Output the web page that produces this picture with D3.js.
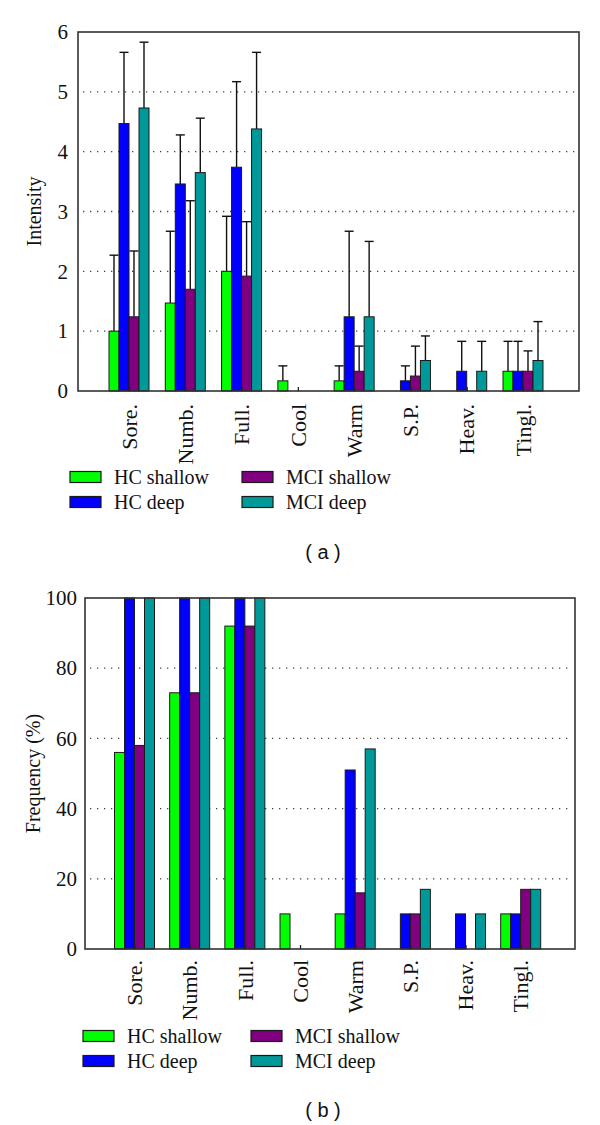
<!DOCTYPE html>
<html>
<head>
<meta charset="utf-8">
<script src="https://cdn.jsdelivr.net/npm/d3@7"></script>
<style>
  html, body { margin: 0; padding: 0; background: #fff; }
  svg { display: block; }
</style>
</head>
<body>
<script>
// ---------- DATA ----------
const categories = ["Sore.", "Numb.", "Full.", "Cool", "Warm", "S.P.", "Heav.", "Tingl."];
const seriesNames = ["HC shallow", "HC deep", "MCI shallow", "MCI deep"];
const seriesColors = ["#00ff00", "#0000ff", "#800080", "#009999"];

// (a) Intensity means
const hcShallowInt  = [1.00, 1.47, 2.00, 0.17, 0.17, 0.00, 0.00, 0.33];
const hcDeepInt     = [4.47, 3.46, 3.74, 0.00, 1.24, 0.17, 0.33, 0.33];
const mciShallowInt = [1.24, 1.70, 1.92, 0.00, 0.33, 0.25, 0.00, 0.33];
const mciDeepInt    = [4.73, 3.65, 4.38, 0.00, 1.24, 0.51, 0.33, 0.51];
// (a) Intensity standard deviations (upper error bars)
const hcShallowSd   = [1.27, 1.20, 0.92, 0.25, 0.25, 0.00, 0.00, 0.50];
const hcDeepSd      = [1.19, 0.82, 1.43, 0.00, 1.43, 0.25, 0.50, 0.50];
const mciShallowSd  = [1.10, 1.48, 0.91, 0.00, 0.42, 0.50, 0.00, 0.34];
const mciDeepSd     = [1.10, 0.91, 1.28, 0.00, 1.26, 0.41, 0.50, 0.65];

// (b) Frequency (%)
const hcShallowFreq  = [56, 73, 92, 10, 10, 0, 0, 10];
const hcDeepFreq     = [100, 100, 100, 0, 51, 10, 10, 10];
const mciShallowFreq = [58, 73, 92, 0, 16, 10, 0, 17];
const mciDeepFreq    = [100, 100, 100, 0, 57, 17, 10, 17];

const intensityTicks = [0, 1, 2, 3, 4, 5, 6];
const frequencyTicks = [0, 20, 40, 60, 80, 100];

const intensityMeans = [hcShallowInt, hcDeepInt, mciShallowInt, mciDeepInt];
const intensitySds = [hcShallowSd, hcDeepSd, mciShallowSd, mciDeepSd];
const frequencyVals = [hcShallowFreq, hcDeepFreq, mciShallowFreq, mciDeepFreq];

// ---------- DRAW ----------
const SERIF = "Liberation Serif, Times New Roman, serif";
const svg = d3.select("body").append("svg").attr("width", 600).attr("height", 1125);

function drawPanel(cfg) {
  const g = svg.append("g");
  const y = d3.scaleLinear().domain(cfg.domain).range([cfg.bottom, cfg.top]);
  const xGroup = d3.scalePoint().domain(categories).range(cfg.centers);
  const xSeries = d3.scaleBand().domain(seriesNames).range([-20, 20]).padding(0);

  // dotted grid
  g.append("g").selectAll("line").data(cfg.grid).join("line")
    .attr("x1", cfg.left + 5).attr("x2", cfg.right - 2)
    .attr("y1", d => y(d)).attr("y2", d => y(d))
    .attr("stroke", "#444").attr("stroke-width", 1.3)
    .attr("stroke-dasharray", "1.3,5.7");

  const rows = [];
  seriesNames.forEach((s, si) => {
    categories.forEach((c, ci) => {
      rows.push({ s, si, c, v: cfg.values[si][ci], sd: cfg.sds ? cfg.sds[si][ci] : 0 });
    });
  });
  const nz = rows.filter(d => d.v > 0);

  // error bars (upper only)
  if (cfg.sds) {
    const eb = g.append("g").attr("stroke", "#111").attr("stroke-width", 1.4);
    nz.filter(d => d.sd > 0).forEach(d => {
      const cx = xGroup(d.c) + xSeries(d.s) + xSeries.bandwidth() / 2;
      eb.append("line").attr("x1", cx).attr("x2", cx)
        .attr("y1", y(d.v)).attr("y2", y(d.v + d.sd));
      eb.append("line").attr("x1", cx - 4.5).attr("x2", cx + 4.5)
        .attr("y1", y(d.v + d.sd)).attr("y2", y(d.v + d.sd));
    });
  }

  // bars
  g.append("g").selectAll("rect").data(nz).join("rect")
    .attr("x", d => xGroup(d.c) + xSeries(d.s))
    .attr("width", xSeries.bandwidth())
    .attr("y", d => y(d.v))
    .attr("height", d => y(0) - y(d.v))
    .attr("fill", d => seriesColors[d.si])
    .attr("stroke", "#1a1a1a").attr("stroke-width", 1);

  // frame
  g.append("rect")
    .attr("x", cfg.left).attr("y", cfg.top)
    .attr("width", cfg.right - cfg.left).attr("height", cfg.bottom - cfg.top)
    .attr("fill", "none").attr("stroke", "#333").attr("stroke-width", 1.6);

  // y axis
  const ya = g.append("g").attr("transform", `translate(${cfg.left},0)`)
    .call(d3.axisLeft(y).tickValues(cfg.ticks).tickFormat(d3.format("d"))
      .tickSize(0).tickPadding(cfg.yPad));
  ya.select(".domain").remove();
  ya.selectAll("text").attr("font-size", 21).attr("fill", "#111").attr("font-family", SERIF);

  // x axis: inward ticks at group centres + rotated labels
  const xa = g.append("g").attr("transform", `translate(0,${cfg.bottom})`)
    .call(d3.axisBottom(xGroup).tickSize(-4).tickPadding(0));
  xa.select(".domain").remove();
  xa.selectAll("line").attr("stroke", "#222").attr("stroke-width", 1.3);
  xa.selectAll("text")
    .attr("font-family", SERIF).attr("font-size", 22).attr("fill", "#111")
    .attr("transform", "rotate(-90)")
    .attr("text-anchor", "end")
    .attr("x", -cfg.labelGap).attr("y", 0).attr("dy", "0.33em");

  // y title
  g.append("text")
    .attr("transform", `translate(${cfg.titleX},${(cfg.top + cfg.bottom) / 2}) rotate(-90)`)
    .attr("text-anchor", "middle").attr("dy", "0.33em")
    .attr("font-family", SERIF).attr("font-size", 20).attr("fill", "#111")
    .text(cfg.title);

  // legend: col 0 = HC shallow / HC deep, col 1 = MCI shallow / MCI deep
  const lg = g.append("g");
  seriesNames.forEach((s, i) => {
    const c = i < 2 ? 0 : 1;
    const r = i % 2;
    const sx = cfg.legendX[c];
    const sy = cfg.legendY + r * 25;
    lg.append("rect").attr("x", sx).attr("y", sy - 5.5).attr("width", 31).attr("height", 11)
      .attr("fill", seriesColors[i]).attr("stroke", "#1a1a1a").attr("stroke-width", 1.2);
    lg.append("text").attr("x", sx + 44).attr("y", sy + 7)
      .attr("font-family", SERIF).attr("font-size", 20).attr("fill", "#111")
      .text(s);
  });

  // caption
  g.append("text").attr("x", cfg.captionX).attr("y", cfg.captionY)
    .attr("text-anchor", "middle").attr("dominant-baseline", "middle")
    .attr("font-family", "Liberation Sans, Arial, sans-serif").attr("font-size", 20).attr("fill", "#111")
    .text(cfg.caption);
}

drawPanel({
  left: 78, right: 579, top: 32, bottom: 391,
  domain: [0, 6], ticks: intensityTicks, grid: [1, 2, 3, 4, 5],
  centers: [129, 523], values: intensityMeans, sds: intensitySds,
  yPad: 10, labelGap: 13, titleX: 34, title: "Intensity",
  legendX: [70, 242], legendY: 477, captionX: 323, captionY: 554, caption: "( a )"
});

drawPanel({
  left: 85, right: 575, top: 598, bottom: 949,
  domain: [0, 100], ticks: frequencyTicks, grid: [20, 40, 60, 80],
  centers: [134.5, 520.7], values: frequencyVals, sds: null,
  yPad: 8, labelGap: 11, titleX: 33, title: "Frequency (%)",
  legendX: [83, 251], legendY: 1036, captionX: 323, captionY: 1112, caption: "( b )"
});
</script>
</body>
</html>
